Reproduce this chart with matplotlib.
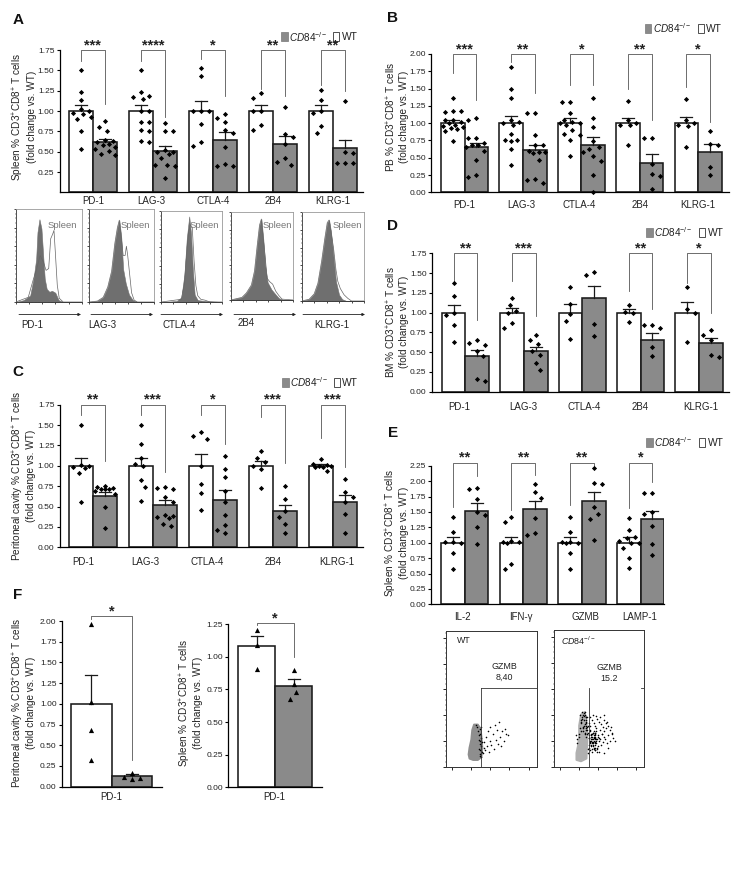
import numpy as np
import matplotlib
matplotlib.use('Agg')
import matplotlib.pyplot as plt

plt.rcParams['font.family'] = ['Liberation Sans', 'DejaVu Sans']
plt.rcParams['mathtext.fontset'] = 'custom'
plt.rcParams['mathtext.rm'] = 'Liberation Sans'
plt.rcParams['mathtext.it'] = 'Liberation Sans:italic'
plt.rcParams['mathtext.bf'] = 'Liberation Sans:bold'
plt.rcParams['mathtext.default'] = 'regular'

MARKERS = ['PD-1', 'LAG-3', 'CTLA-4', '2B4', 'KLRG-1']
EFFECTORS = ['IL-2', 'IFN-γ', 'GZMB', 'LAMP-1']

###############################################################################
# Panel A, spleen
A_WT = [[1.51, 1.24, 1.14, 1.02, 1.0, 0.98, 0.96, 0.93, 0.90, 0.76, 0.54],
        [1.50, 1.23, 1.19, 1.17, 1.15, 1.0, 1.0, 0.87, 0.86, 0.77, 0.76, 0.63, 0.62],
        [1.53, 1.43, 1.0, 1.0, 1.0, 0.84, 0.62, 0.57],
        [1.22, 1.16, 1.0, 1.0, 0.83, 0.77],
        [1.26, 1.14, 1.0, 0.98, 0.82, 0.73]]
A_KO = [[0.88, 0.81, 0.75, 0.65, 0.63, 0.62, 0.60, 0.58, 0.56, 0.53, 0.51, 0.47, 0.46],
        [0.85, 0.75, 0.75, 0.52, 0.50, 0.50, 0.47, 0.42, 0.34, 0.34, 0.33, 0.18],
        [0.97, 0.92, 0.87, 0.77, 0.73, 0.56, 0.35, 0.33, 0.32],
        [1.05, 0.72, 0.68, 0.59, 0.42, 0.38, 0.34],
        [1.12, 0.50, 0.49, 0.36, 0.36, 0.36]]
A_KO_MEAN = [0.62, 0.51, 0.64, 0.59, 0.55]
A_WT_TOP = [1.07, 1.07, 1.12, 1.07, 1.08]
A_KO_TOP = [0.66, 0.57, 0.74, 0.69, 0.65]
A_STARS = ['***', '****', '*', '**', '**']
A_LEFT = [1.61, 1.62, 1.64, 1.27, 1.32]
A_RIGHT = [1.09, 0.93, 1.19, 1.19, 1.25]

# Panel B, peripheral blood
B_WT = [[1.36, 1.18, 1.17, 1.16, 1.05, 1.04, 1.02, 1.0, 0.98, 0.96, 0.95, 0.93, 0.91, 0.89, 0.74],
        [1.81, 1.50, 1.37, 1.05, 1.02, 1.0, 0.98, 0.85, 0.76, 0.75, 0.74, 0.62, 0.40],
        [1.31, 1.30, 1.15, 1.05, 1.02, 1.0, 1.0, 0.98, 0.90, 0.85, 0.83, 0.75, 0.53],
        [1.32, 1.04, 1.0, 0.98, 0.98, 0.68],
        [1.35, 1.05, 1.0, 0.98, 0.96, 0.65]]
B_KO = [[1.08, 1.05, 0.78, 0.78, 0.72, 0.68, 0.68, 0.66, 0.60, 0.47, 0.25, 0.22],
        [1.15, 1.14, 0.83, 0.69, 0.68, 0.60, 0.59, 0.58, 0.57, 0.47, 0.19, 0.18, 0.13],
        [1.37, 1.07, 0.95, 0.74, 0.66, 0.63, 0.58, 0.52, 0.45, 0.25, 0.0],
        [0.79, 0.78, 0.41, 0.27, 0.24, 0.05],
        [0.88, 0.70, 0.68, 0.37, 0.25]]
B_KO_MEAN = [0.65, 0.61, 0.69, 0.43, 0.58]
B_WT_TOP = [1.05, 1.10, 1.07, 1.08, 1.09]
B_KO_TOP = [0.72, 0.69, 0.80, 0.55, 0.70]
B_STARS = ['***', '**', '*', '**', '*']
B_LEFT = [1.72, 1.89, 1.55, 1.49, 1.52]
B_RIGHT = [1.33, 1.44, 1.55, 1.05, 1.02]

# Panel C, peritoneal cavity
C_WT = [[1.50, 1.01, 1.0, 0.98, 0.97, 0.91, 0.55],
        [1.50, 1.27, 1.10, 1.02, 1.0, 0.83, 0.74, 0.57],
        [1.41, 1.36, 1.33, 1.0, 0.78, 0.67, 0.46],
        [1.18, 1.09, 1.05, 1.0, 0.96, 0.73],
        [1.08, 1.02, 1.01, 1.0, 1.0, 0.99, 0.98, 0.94]]
C_KO = [[0.75, 0.74, 0.73, 0.72, 0.72, 0.71, 0.69, 0.65, 0.50, 0.24],
        [0.74, 0.73, 0.72, 0.62, 0.56, 0.40, 0.38, 0.37, 0.36, 0.29, 0.26],
        [1.12, 0.96, 0.86, 0.69, 0.55, 0.40, 0.27, 0.21, 0.17],
        [0.75, 0.59, 0.45, 0.37, 0.28, 0.18],
        [0.84, 0.68, 0.62, 0.55, 0.41, 0.17]]
C_KO_MEAN = [0.63, 0.52, 0.58, 0.44, 0.55]
C_WT_TOP = [1.10, 1.10, 1.14, 1.06, 1.02]
C_KO_TOP = [0.68, 0.58, 0.70, 0.52, 0.64]
C_STARS = ['**', '***', '*', '***', '***']
C_LEFT = [1.62, 1.62, 1.62, 1.60, 1.34]
C_RIGHT = [1.06, 0.93, 1.27, 1.03, 0.98]

# Panel D, bone marrow
D_WT = [[1.37, 1.21, 1.0, 0.97, 0.84, 0.63],
        [1.19, 1.09, 1.02, 0.99, 0.87, 0.81],
        [1.33, 1.11, 0.98, 0.89, 0.67],
        [1.10, 1.01, 1.0, 0.88],
        [1.33, 1.04, 0.99, 0.63]]
D_KO = [[0.65, 0.62, 0.59, 0.52, 0.45, 0.16, 0.14],
        [0.72, 0.65, 0.60, 0.52, 0.46, 0.36, 0.27],
        [1.51, 1.48, 0.86, 0.71],
        [0.84, 0.84, 0.80, 0.57, 0.45],
        [0.78, 0.72, 0.65, 0.46, 0.44]]
D_KO_MEAN = [0.45, 0.51, 1.18, 0.66, 0.61]
D_WT_TOP = [1.10, 1.06, 1.11, 1.04, 1.14]
D_KO_TOP = [0.53, 0.57, 1.34, 0.74, 0.68]
D_STARS = ['**', '***', None, '**', '*']
D_LEFT = [1.40, 1.40, None, 1.27, 1.37]
D_RIGHT = [0.91, 0.96, None, 1.05, 0.99]

# Panel E, effector molecules
E_WT = [[1.42, 1.17, 1.01, 1.01, 1.0, 0.83, 0.57],
        [1.42, 1.33, 1.02, 1.01, 1.01, 1.0, 0.66, 0.57],
        [1.42, 1.17, 1.01, 1.01, 1.0, 1.0, 0.83, 0.57],
        [1.40, 1.20, 1.09, 1.07, 1.02, 1.0, 0.99, 0.91, 0.75, 0.59]]
E_KO = [[1.88, 1.87, 1.71, 1.50, 1.45, 1.26, 0.98],
        [1.96, 1.82, 1.72, 1.40, 1.16, 1.13],
        [2.22, 1.97, 1.96, 1.58, 1.46, 1.39, 1.05],
        [1.80, 1.80, 1.50, 1.46, 1.27, 0.98, 0.80]]
E_KO_MEAN = [1.52, 1.54, 1.67, 1.38]
E_WT_TOP = [1.10, 1.10, 1.09, 1.09]
E_KO_TOP = [1.64, 1.67, 1.82, 1.52]
E_STARS = ['**', '**', '**', '*']
E_LEFT = [1.58, 1.53, 1.61, 1.57]
E_RIGHT = [2.08, 2.10, 2.25, 1.99]

# Panel F, triangles
F1_WT = [[1.96, 1.02, 0.68, 0.32]]
F1_KO = [[0.17, 0.12, 0.11, 0.09]]
F2_WT = [[1.21, 1.09, 0.91]]
F2_KO = [[0.90, 0.79, 0.73, 0.68]]

# Histogram outlines, percent of the box along x and up y
H_X_FILL = [[0, 12, 22, 27, 31, 33, 36, 39, 42, 44, 47, 51, 55, 60, 65, 72, 100],
            [0, 13, 22, 29, 35, 40, 44, 47, 50, 53, 57, 62, 68, 75, 100],
            [0, 25, 33, 38, 42, 46, 49, 52, 55, 60, 75, 100],
            [0, 18, 25, 33, 38, 42, 46, 49, 52, 55, 59, 65, 72, 77, 85, 100],
            [0, 12, 20, 26, 32, 37, 41, 44, 47, 51, 55, 60, 65, 72, 100]]
H_Y_FILL = [[0, 2, 7, 25, 46, 75, 89, 79, 46, 25, 14, 11, 12, 10, 2, 0, 0],
            [0, 1, 5, 16, 33, 63, 80, 88, 70, 35, 20, 8, 2, 0, 0],
            [0, 1, 5, 30, 70, 94, 75, 35, 8, 2, 1, 0],
            [0, 3, 8, 17, 33, 60, 85, 92, 70, 40, 20, 12, 6, 2, 0, 0],
            [0, 2, 8, 20, 45, 70, 88, 91, 78, 50, 22, 7, 2, 0, 0]]
H_X_LINE = [[0, 19, 27, 32, 37, 42, 46, 50, 53, 56, 58, 60, 63, 66, 72, 100],
            [0, 13, 22, 29, 35, 40, 44, 47, 50, 53, 56, 58, 60, 63, 66, 70, 75, 100],
            [0, 33, 38, 42, 45, 48, 51, 54, 57, 60, 65, 72, 80, 100],
            [0, 18, 25, 33, 38, 42, 46, 49, 52, 55, 58, 62, 67, 72, 77, 82, 100],
            [0, 12, 20, 26, 32, 37, 41, 44, 47, 51, 55, 58, 62, 68, 74, 80, 100]]
H_Y_LINE = [[0, 5, 25, 36, 50, 43, 34, 36, 68, 73, 77, 54, 18, 4, 0, 0],
            [0, 1, 5, 16, 33, 63, 80, 88, 70, 50, 50, 60, 50, 30, 10, 2, 0, 0],
            [0, 3, 20, 55, 78, 85, 82, 45, 18, 7, 3, 2, 0, 0],
            [0, 3, 8, 17, 33, 60, 85, 92, 70, 50, 25, 21, 18, 10, 5, 1, 0],
            [0, 2, 8, 20, 45, 70, 88, 91, 78, 60, 35, 22, 14, 7, 3, 0, 0]]

# Flow plots, percent of the box; grey cloud outline and black events
WT_CLOUD_X = [25, 26, 28, 29, 31, 35, 38, 39, 40, 39, 35, 30, 26]
WT_CLOUD_Y = [9, 14, 20, 27, 31, 31, 28, 22, 14, 7, 5, 5, 6]
WT_DOTS_X = [41, 42, 42, 43, 44, 45, 46, 47, 48, 49, 50, 52, 53, 54, 55, 56, 57, 58, 60, 61, 62, 64, 65, 66, 68, 38, 37, 39, 36, 40, 38, 36, 39,
             37, 38, 39, 36, 35, 38, 37, 39, 40, 34, 33]
WT_DOTS_Y = [10, 14, 18, 12, 22, 15, 26, 11, 19, 29, 16, 24, 13, 31, 20, 27, 17, 33, 22, 15, 26, 19, 28, 24, 23, 24, 28, 15, 20, 11, 8, 13, 29,
             17, 19, 21, 23, 26, 12, 9, 7, 18, 29, 31]
KO_CLOUD_X = [25, 25, 27, 28, 28, 30, 34, 36, 37, 36, 30]
KO_CLOUD_Y = [5, 10, 16, 22, 30, 38, 40, 34, 20, 6, 4]
KO_DOTS_X = [28, 29, 30, 31, 32, 33, 34, 35, 36, 37, 29, 31, 33, 35, 37, 28, 30, 32, 34, 36, 30, 32, 34, 36, 38,
             38, 39, 40, 41, 42, 43, 44, 45, 46, 47, 48, 49, 50, 38, 39, 40, 41, 42, 43, 44, 45, 46, 47, 48, 49,
             39, 40, 41, 42, 43, 44, 45, 46, 47, 48, 50, 51, 52, 53, 54, 55, 56, 57, 58, 59, 60, 62, 64, 66, 68,
             40, 42, 44, 46, 48, 50, 52, 54, 56, 58, 60, 62, 64, 43, 47, 51, 55, 59, 63, 45, 50, 55, 60, 24, 25, 26,
             39, 40, 41, 42, 43, 44, 45, 39, 40, 41, 42, 43, 44, 45, 46, 39, 41, 43, 45, 47, 40, 42, 44, 46, 48,
             38, 40, 42, 44, 46, 41, 43, 45, 47, 49, 51, 53, 30, 31, 32, 33, 34, 35, 36, 37, 33, 34, 35, 36, 37]
KO_DOTS_Y = [24, 28, 32, 36, 26, 30, 38, 34, 28, 24, 38, 40, 34, 30, 36, 22, 26, 28, 24, 22, 34, 38, 40, 36, 30,
             10, 14, 18, 22, 13, 17, 21, 12, 16, 20, 11, 15, 19, 25, 21, 27, 16, 24, 20, 26, 18, 23, 28, 14, 22,
             32, 30, 20, 18, 15, 23, 17, 25, 19, 13, 21, 27, 16, 24, 18, 22, 26, 20, 28, 17, 23, 19, 25, 21, 19,
             36, 34, 32, 30, 35, 33, 31, 29, 34, 32, 30, 27, 24, 38, 37, 36, 38, 33, 29, 12, 11, 10, 14, 23, 20, 17,
             16, 19, 15, 22, 18, 14, 20, 21, 17, 24, 20, 16, 22, 18, 24, 23, 19, 25, 21, 17, 26, 17, 19, 25, 20,
             13, 12, 11, 13, 14, 23, 25, 22, 26, 23, 20, 24, 33, 35, 29, 37, 31, 27, 33, 29, 39, 25, 36, 32, 27]

###############################################################################
fig = plt.figure(figsize=(7.42, 8.8), dpi=100)
# full figure overlay in pixel coordinates for the text
over = fig.add_axes([0, 0, 1, 1], zorder=10)
over.set_xlim(0, 742)
over.set_ylim(880, 0)
over.axis('off')

TICK_FS = 6.0
LABEL_FS = 7.0
YLAB_FS = 7.2
GRAY = '#8a8a8a'


def px_axes(x0, x1, ytop, ybot, **kw):
    return fig.add_axes([x0 / 742, 1 - ybot / 880, (x1 - x0) / 742, (ybot - ytop) / 880], **kw)


def swarm(values, center, px_per_unit, min_dist=8.0, step=2.0, limit=11.0):
    # greedy swarm so overlapping points move out sideways, alternating sides
    placed = []
    for n, v in enumerate(sorted(values, reverse=True)):
        yy = v * px_per_unit
        sign = -1 if n % 2 else 1
        offs = [0.0]
        for k in range(1, int(limit / step) + 1):
            offs += [sign * k * step, -sign * k * step]
        best = None
        for dx in offs:
            if all((dx - p[0]) ** 2 + (yy - p[1]) ** 2 >= min_dist ** 2 for p in placed):
                best = dx
                break
        if best is None:
            # crowded: take the offset farthest from its neighbours
            best = max(offs, key=lambda o: min((o - p[0]) ** 2 + (yy - p[1]) ** 2 for p in placed))
        placed.append((best, yy))
    return [center + p[0] for p in placed], [p[1] / px_per_unit for p in placed]


def ylabels(x1, x2, yc, name):
    over.text(x1, yc, name, rotation=90, ha='center', va='center', fontsize=YLAB_FS, color='#222222')
    over.text(x2, yc, '(fold change vs. WT)', rotation=90, ha='center', va='center', fontsize=YLAB_FS, color='#222222')


def legend(xg, xt, xw, xwt, yc):
    over.add_patch(plt.Rectangle((xg, yc - 4.5), 6.5, 9, fc=GRAY, ec='#777777', lw=0.5))
    over.text(xt, yc, r'$\mathit{CD84}^{-/-}$', fontsize=7.2, va='center', color='#222222')
    over.add_patch(plt.Rectangle((xw, yc - 4.5), 5.5, 9, fc='white', ec='#333333', lw=0.6))
    over.text(xwt, yc, 'WT', fontsize=7.4, va='center', color='#222222')


def bar_panel(x0, x1, ytop, ybot, ymax, ticks, first, pitch, width, labels, label_x, label_y,
              wt, ko, ko_mean, wt_top, ko_top, stars, left, right, bracket_top=None, marker='D', msize=7,
              wt_mean=None):
    ax = px_axes(x0, x1, ytop, ybot)
    ax.patch.set_alpha(0)
    ax.set_xlim(x0, x1)
    ax.set_ylim(0, ymax)
    scale = (ybot - ytop) / ymax
    if bracket_top is None:
        bracket_top = ymax
    if wt_mean is None:
        wt_mean = [1.0] * len(labels)
    for i in range(len(labels)):
        lw_x = first + i * pitch + width / 2
        ko_x = lw_x + width
        ax.bar(lw_x, wt_mean[i], width, color='white', edgecolor='#1a1a1a', lw=1.15, zorder=2)
        ax.bar(ko_x, ko_mean[i], width, color=GRAY, edgecolor='#1a1a1a', lw=1.15, zorder=2)
        for xx, m, t in ((lw_x, wt_mean[i], wt_top[i]), (ko_x, ko_mean[i], ko_top[i])):
            ax.plot([xx, xx], [m, t], color='#1a1a1a', lw=0.9, zorder=3)
            ax.plot([xx - 6, xx + 6], [t, t], color='#1a1a1a', lw=0.9, zorder=3)
        for xx, vals in ((lw_x, wt[i]), (ko_x, ko[i])):
            sx, sy = swarm(vals, xx, scale)
            ax.scatter(sx, sy, s=msize, marker=marker, color='black', lw=0, zorder=4, clip_on=False)
        if stars[i] is not None:
            ax.plot([lw_x, lw_x, ko_x, ko_x], [left[i], bracket_top, bracket_top, right[i]],
                    color='#555555', lw=0.6, zorder=1, clip_on=False)
            over.text(lw_x + width / 2, ybot - bracket_top * scale - 5, stars[i], ha='center', va='center',
                      fontsize=10.5, fontweight='bold', color='#222222')
        over.text(label_x[i], label_y, labels[i], ha='center', va='center', fontsize=LABEL_FS, color='#222222')
    ax.set_yticks(ticks)
    ax.set_yticklabels(['%.2f' % t for t in ticks], fontsize=TICK_FS, color='#222222')
    ax.set_xticks([])
    ax.tick_params(axis='y', length=2.2, width=0.8, pad=1.5)
    for s in ('top', 'right'):
        ax.spines[s].set_visible(False)
    for s in ('left', 'bottom'):
        ax.spines[s].set_linewidth(0.9)
    return ax


# A
bar_panel(59.5, 363, 50, 192.5, 1.75, [0.25, 0.5, 0.75, 1.0, 1.25, 1.5, 1.75], 68.5, 60, 24.4,
          MARKERS, [93, 151, 213, 273, 333], 201,
          A_WT, A_KO, A_KO_MEAN, A_WT_TOP, A_KO_TOP, A_STARS, A_LEFT, A_RIGHT)
ylabels(18, 32, 117, 'Spleen % CD3$^{+}$CD8$^{+}$ T cells')
legend(281, 289, 333, 342, 37)
# B
bar_panel(431, 729, 54, 192.3, 2.0, [0, 0.25, 0.5, 0.75, 1.0, 1.25, 1.5, 1.75, 2.0], 441, 58.4, 23.6,
          MARKERS, [464, 521, 579, 640, 698], 205,
          B_WT, B_KO, B_KO_MEAN, B_WT_TOP, B_KO_TOP, B_STARS, B_LEFT, B_RIGHT)
ylabels(391, 404, 117, 'PB % CD3$^{+}$CD8$^{+}$ T cells')
legend(644.5, 653, 698, 706, 28.5)
# C
bar_panel(59.5, 363, 404.7, 547.3, 1.75, [0, 0.25, 0.5, 0.75, 1.0, 1.25, 1.5, 1.75], 68.5, 60, 24.4,
          MARKERS, [83, 145, 207, 273, 337], 562,
          C_WT, C_KO, C_KO_MEAN, C_WT_TOP, C_KO_TOP, C_STARS, C_LEFT, C_RIGHT)
ylabels(18, 31, 476, 'Peritoneal cavity % CD3$^{+}$CD8$^{+}$ T cells')
legend(282, 290, 334, 342, 382.5)
# D
bar_panel(431.7, 729, 253.3, 391.7, 1.75, [0, 0.25, 0.5, 0.75, 1.0, 1.25, 1.5, 1.75], 441.7, 58.4, 23.7,
          MARKERS, [459, 523, 584, 640, 701], 407,
          D_WT, D_KO, D_KO_MEAN, D_WT_TOP, D_KO_TOP, D_STARS, D_LEFT, D_RIGHT)
ylabels(391, 404, 322, 'BM % CD3$^{+}$CD8$^{+}$ T cells')
legend(646, 654, 699, 708, 232.5)
# E
bar_panel(431, 664, 465.7, 604.3, 2.25, [0, 0.25, 0.5, 0.75, 1.0, 1.25, 1.5, 1.75, 2.0, 2.25], 441, 58.6, 23.7,
          EFFECTORS, [462, 521, 585, 640], 617,
          E_WT, E_KO, E_KO_MEAN, E_WT_TOP, E_KO_TOP, E_STARS, E_LEFT, E_RIGHT, bracket_top=2.30)
ylabels(391, 404, 533, 'Spleen % CD3$^{+}$CD8$^{+}$ T cells')
legend(646, 654, 699, 708, 442.5)
# F
bar_panel(61.7, 161.7, 621, 786.7, 2.0, [0, 0.25, 0.5, 0.75, 1.0, 1.25, 1.5, 1.75, 2.0], 71, 0, 40.5,
          ['PD-1'], [111], 797,
          F1_WT, F1_KO, [0.13], [1.35], [0.15], ['*'], [2.03], [0.32], bracket_top=2.06, marker='^', msize=14)
ylabels(18, 31, 703, 'Peritoneal cavity % CD3$^{+}$CD8$^{+}$ T cells')
bar_panel(228, 321.7, 624.3, 787.3, 1.25, [0, 0.25, 0.5, 0.75, 1.0, 1.25], 238, 0, 37,
          ['PD-1'], [274], 797,
          F2_WT, F2_KO, [0.78], [1.16], [0.83], ['*'], [1.245], [1.0], bracket_top=1.26, marker='^', msize=14,
          wt_mean=[1.08])
ylabels(185, 198, 703, 'Spleen % CD3$^{+}$CD8$^{+}$ T cells')

###############################################################################
# Histograms under panel A
hist_boxes = [(15.7, 81.7, 209, 302), (89, 153.5, 209, 302), (161.3, 222, 211, 302),
              (230.7, 293.3, 212, 300), (301.7, 364, 212, 301)]
arrow_x = [(19, 81), (91, 153), (161, 223), (234, 296), (303, 365)]
arrow_y = [314.5, 314.5, 314.5, 314.5, 314.5]
hist_label_x = [32, 102, 179, 246, 332]
hist_label_y = [324.5, 324.5, 324.5, 323.5, 324.5]
spleen_x = [62, 135, 204, 277, 347]
for i, box in enumerate(hist_boxes):
    ax = px_axes(box[0], box[1], box[2], box[3])
    ax.set_xlim(0, 100)
    ax.set_ylim(0, 100)
    ax.fill_between(H_X_FILL[i], H_Y_FILL[i], color='#6f6f6f', lw=0.4, zorder=2)
    ax.plot(H_X_LINE[i], H_Y_LINE[i], color='#666666', lw=0.5, zorder=3)
    for s in ('top', 'right'):
        ax.spines[s].set_color('#999999')
        ax.spines[s].set_linewidth(0.6)
    for s in ('left', 'bottom'):
        ax.spines[s].set_color('#333333')
        ax.spines[s].set_linewidth(0.6)
    ax.set_xticks(np.arange(0, 101, 20))
    ax.set_yticks(np.arange(0, 101, 20))
    ax.set_xticks(np.arange(0, 101, 5), minor=True)
    ax.set_yticks(np.arange(0, 101, 5), minor=True)
    ax.tick_params(which='major', length=1.5, width=0.5, labelbottom=False, labelleft=False)
    ax.tick_params(which='minor', length=0.8, width=0.3)
    over.text(spleen_x[i], 225, 'Spleen', ha='center', va='center', fontsize=6.8, color='#777777')
    over.annotate('', xy=(arrow_x[i][1], arrow_y[i]), xytext=(arrow_x[i][0], arrow_y[i]),
                  arrowprops=dict(arrowstyle='-|>', lw=0.6, color='#222222', mutation_scale=4, shrinkA=0, shrinkB=0))
    over.text(hist_label_x[i], hist_label_y[i], MARKERS[i], ha='center', va='center', fontsize=LABEL_FS, color='#222222')

###############################################################################
# Flow plots under panel E
def flow(box, cloud_x, cloud_y, cloud_col, dots_x, dots_y, gate_x, value, text_x, text_y, hline):
    ax = px_axes(box[0], box[1], box[2], box[3])
    ax.set_xlim(0, 100)
    ax.set_ylim(0, 100)
    ax.fill(cloud_x, cloud_y, facecolor=cloud_col, edgecolor=cloud_col, lw=1.5, joinstyle='round', zorder=2)
    ax.scatter(dots_x, dots_y, s=1.3, color='black', lw=0, zorder=3)
    top = (766.7 - 688) / (766.7 - box[2]) * 100
    ax.plot([gate_x, gate_x], [0, top], color='#333333', lw=0.6, zorder=4)
    if hline:
        ax.plot([gate_x, 100], [top, top], color='#333333', lw=0.6, zorder=4)
    else:
        ax.plot([97, 100], [top, top], color='#333333', lw=0.6, zorder=4)
    for s in ax.spines.values():
        s.set_linewidth(0.7)
        s.set_color('#333333')
    ax.set_xticks(np.arange(7, 100, 21))
    ax.set_yticks(np.arange(0, 100, 19))
    ax.set_xticks(np.arange(3, 100, 4), minor=True)
    ax.set_yticks(np.arange(0, 100, 3.8), minor=True)
    ax.tick_params(which='major', length=2.2, width=0.6, labelbottom=False, labelleft=False)
    ax.tick_params(which='minor', length=1.0, width=0.3)
    over.text(text_x, text_y, 'GZMB\n' + value, ha='center', va='center', fontsize=6.4, color='#222222', linespacing=1.25)
    return ax


flow((446, 536.7, 631, 766.7), WT_CLOUD_X, WT_CLOUD_Y, '#8e8e8e', WT_DOTS_X, WT_DOTS_Y, 39, '8,40', 504, 672, True)
over.text(457, 640.5, 'WT', fontsize=6.4, va='center', color='#222222')
flow((554, 644, 630, 766.7), KO_CLOUD_X, KO_CLOUD_Y, '#b0b0b0', KO_DOTS_X, KO_DOTS_Y, 39, '15.2', 609, 673, False)
over.text(561, 641, r'$\mathit{CD84}^{-/-}$', fontsize=6.4, va='center', color='#222222')

# panel letters
for letter, lx, ly in (('A', 18, 20), ('B', 393, 18), ('C', 18, 372), ('D', 393, 226), ('E', 393, 433), ('F', 18, 595)):
    over.text(lx, ly, letter, ha='center', va='center', fontsize=11, fontweight='bold', color='#111111')

fig.savefig('out.png', dpi=100)
